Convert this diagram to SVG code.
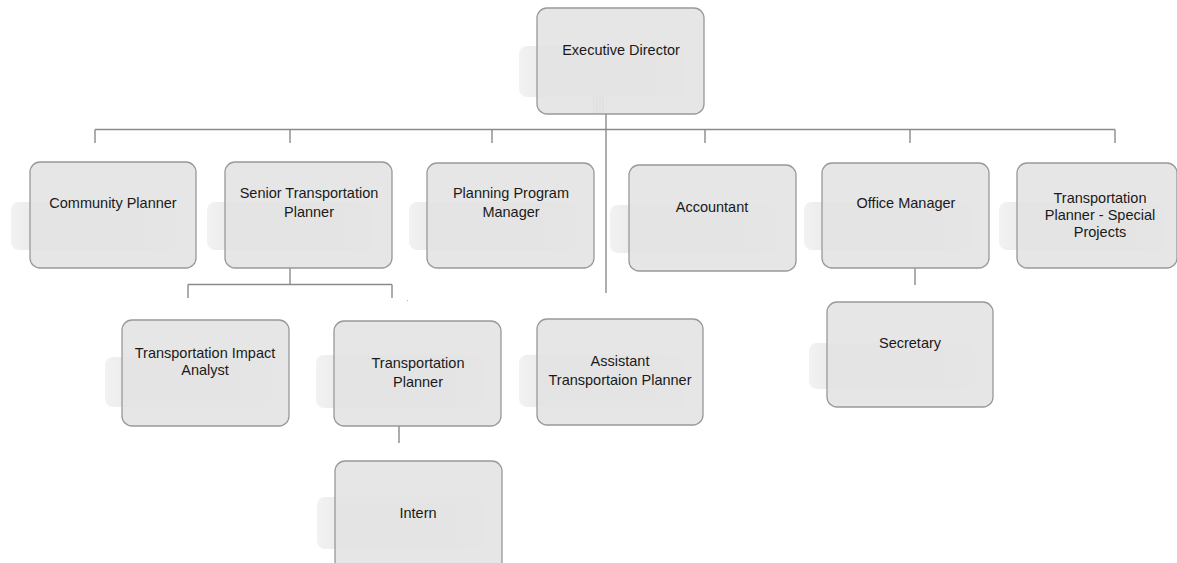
<svg xmlns="http://www.w3.org/2000/svg" width="1177" height="563" viewBox="0 0 1177 563">
<defs>
<linearGradient id="sh" x1="0" y1="0" x2="1" y2="0">
<stop offset="0" stop-color="#f2f2f2"/>
<stop offset="0.12" stop-color="#ececec"/>
<stop offset="1" stop-color="#f0f0f0"/>
</linearGradient>
</defs>
<style>
.sh{fill:url(#sh);}
.bx{fill:#e2e2e2;fill-opacity:0.88;stroke:#999999;stroke-width:1.3;}
.t{font-family:"Liberation Sans",Arial,sans-serif;font-size:14.5px;fill:#1a1a1a;text-anchor:middle;}
.c{stroke:#8a8a8a;stroke-width:1.4;fill:none;}
.f{stroke:#dcdcdc;stroke-width:1;fill:none;}
</style>
<rect width="1177" height="563" fill="#ffffff"/>
<g id="connectors">
<line class="c" x1="95" y1="129.5" x2="1115" y2="129.5"/>
<line class="c" x1="95" y1="129.5" x2="95" y2="143"/>
<line class="c" x1="290" y1="129.5" x2="290" y2="143"/>
<line class="c" x1="492" y1="129.5" x2="492" y2="143"/>
<line class="c" x1="705" y1="129.5" x2="705" y2="143"/>
<line class="c" x1="910" y1="129.5" x2="910" y2="143"/>
<line class="c" x1="1115" y1="129.5" x2="1115" y2="143"/>
<line class="c" x1="606" y1="114" x2="606" y2="293"/>
<line class="c" x1="290" y1="268" x2="290" y2="284.5"/>
<line class="c" x1="188" y1="284.5" x2="392" y2="284.5"/>
<line class="c" x1="188" y1="284.5" x2="188" y2="298"/>
<line class="c" x1="392" y1="284.5" x2="392" y2="298"/>
<line class="c" x1="399" y1="426" x2="399" y2="443"/>
<line class="c" x1="915" y1="268" x2="915" y2="285"/>
<rect x="407" y="300" width="1" height="1" fill="#aaaaaa"/>
</g>
<g id="executive-director">
<rect class="sh" x="519" y="46" width="167" height="51" rx="8"/>
<rect class="bx" x="537" y="8" width="167" height="106" rx="10"/>
<line class="f" x1="594" y1="97" x2="594" y2="113"/>
<line class="f" x1="597" y1="97" x2="597" y2="113"/>
<line class="f" x1="600" y1="97" x2="600" y2="113"/>
<line class="f" x1="603" y1="97" x2="603" y2="113"/>
<text class="t" x="621" y="55">Executive Director</text>
</g>
<g id="community-planner">
<rect class="sh" x="11" y="202" width="166" height="48" rx="8"/>
<rect class="bx" x="30" y="162" width="166" height="106" rx="10"/>
<text class="t" x="113" y="208">Community Planner</text>
</g>
<g id="senior-transportation-planner">
<rect class="sh" x="207" y="202" width="166" height="48" rx="8"/>
<rect class="bx" x="225" y="162" width="167" height="106" rx="10"/>
<text class="t" x="309" y="198">Senior Transportation</text>
<text class="t" x="309" y="217">Planner</text>
</g>
<g id="planning-program-manager">
<rect class="sh" x="409" y="202" width="167" height="48" rx="8"/>
<rect class="bx" x="427" y="163" width="167" height="105" rx="10"/>
<text class="t" x="511" y="198">Planning Program</text>
<text class="t" x="511" y="217">Manager</text>
</g>
<g id="accountant">
<rect class="sh" x="610" y="205" width="167" height="48" rx="8"/>
<rect class="bx" x="629" y="165" width="167" height="106" rx="10"/>
<text class="t" x="712" y="212">Accountant</text>
</g>
<g id="office-manager">
<rect class="sh" x="804" y="202" width="167" height="48" rx="8"/>
<rect class="bx" x="822" y="163" width="167" height="105" rx="10"/>
<text class="t" x="906" y="208">Office Manager</text>
</g>
<g id="transportation-planner-special-projects">
<rect class="sh" x="999" y="202" width="167" height="48" rx="8"/>
<rect class="bx" x="1017" y="163" width="160" height="105" rx="10"/>
<text class="t" x="1100" y="203">Transportation</text>
<text class="t" x="1100" y="220">Planner - Special</text>
<text class="t" x="1100" y="237">Projects</text>
</g>
<g id="transportation-impact-analyst">
<rect class="sh" x="105" y="357" width="167" height="50" rx="8"/>
<rect class="bx" x="122" y="320" width="167" height="106" rx="10"/>
<text class="t" x="205" y="358">Transportation Impact</text>
<text class="t" x="205" y="375">Analyst</text>
</g>
<g id="transportation-planner">
<rect class="sh" x="316" y="355" width="167" height="53" rx="8"/>
<rect class="bx" x="334" y="321" width="167" height="105" rx="10"/>
<text class="t" x="418" y="368">Transportation</text>
<text class="t" x="418" y="387">Planner</text>
</g>
<g id="assistant-transportaion-planner">
<rect class="sh" x="519" y="355" width="166" height="52" rx="8"/>
<rect class="bx" x="537" y="319" width="166" height="106" rx="10"/>
<text class="t" x="620" y="366">Assistant</text>
<text class="t" x="620" y="385">Transportaion Planner</text>
</g>
<g id="secretary">
<rect class="sh" x="809" y="343" width="166" height="46" rx="8"/>
<rect class="bx" x="827" y="302" width="166" height="105" rx="10"/>
<text class="t" x="910" y="348">Secretary</text>
</g>
<g id="intern">
<rect class="sh" x="317" y="497" width="167" height="52" rx="8"/>
<rect class="bx" x="335" y="461" width="167" height="110" rx="10"/>
<text class="t" x="418" y="518">Intern</text>
</g>
</svg>
